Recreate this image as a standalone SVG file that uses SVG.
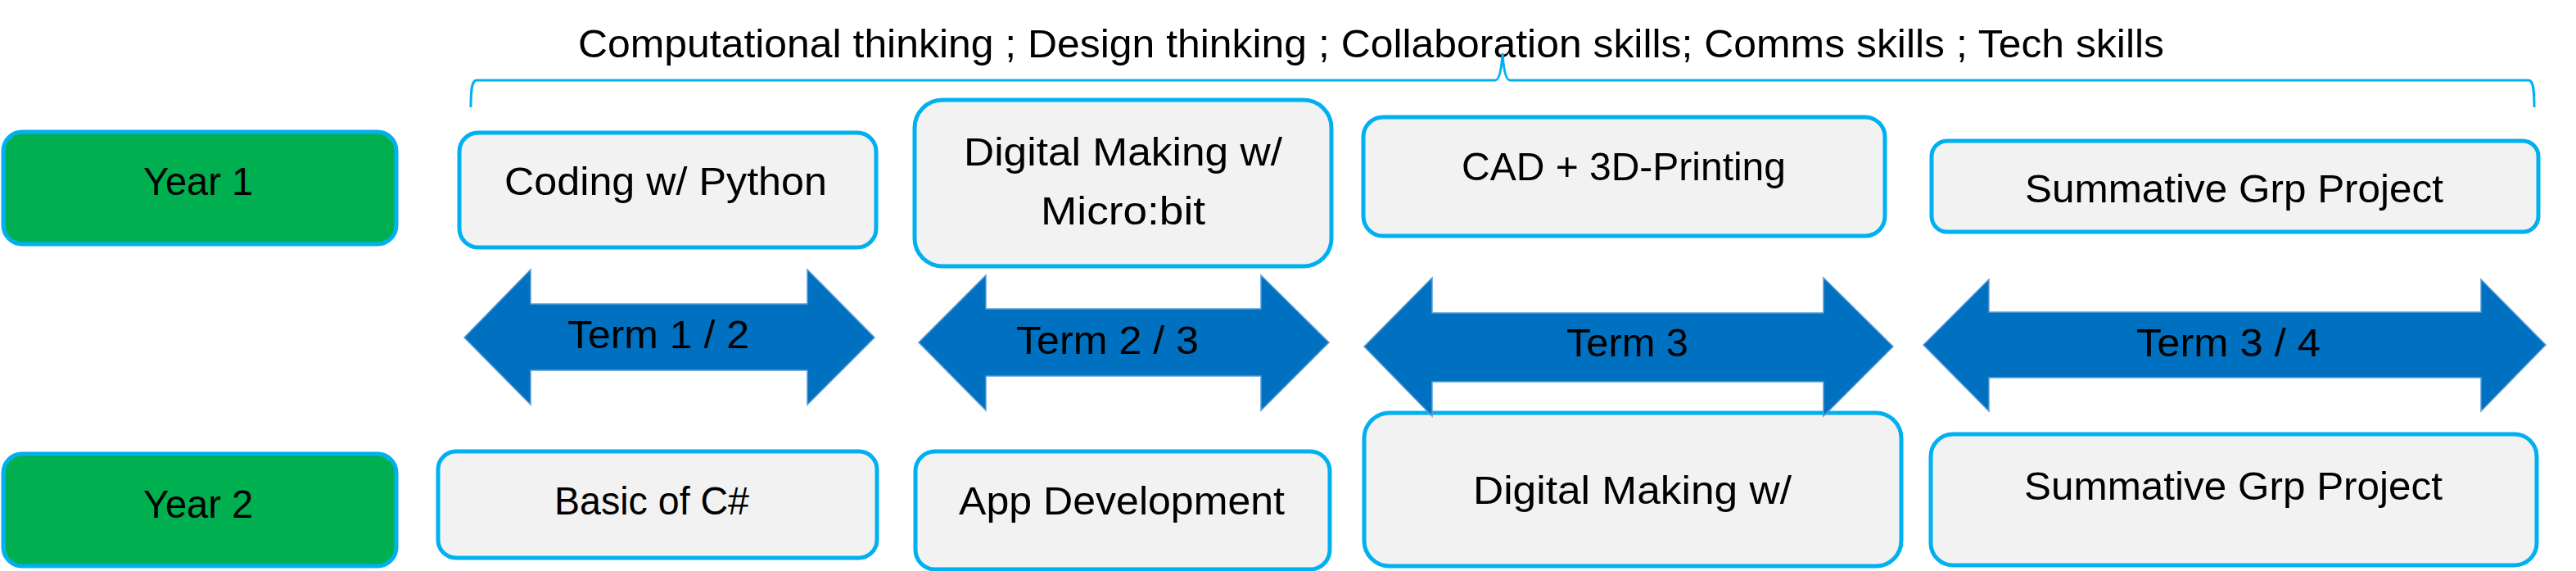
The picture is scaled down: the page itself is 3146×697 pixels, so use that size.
<svg xmlns="http://www.w3.org/2000/svg" width="3146" height="697" viewBox="0 0 3146 697">
<style>
.box{fill:#F2F2F2;stroke:#00B0F0;stroke-width:5}
.year{fill:#00B050;stroke:#00B0F0;stroke-width:5}
.arr{fill:#0070C0;stroke:#5B9BD5;stroke-width:1.5}
.t{font-family:"Liberation Sans",Arial,sans-serif;font-size:49px;fill:#000}
.brace{fill:none;stroke:#00B0F0;stroke-width:3}
</style>
<rect width="3146" height="697" fill="#FFFFFF"/>
<g id="title">
<text class="t" x="706" y="70" textLength="1937" lengthAdjust="spacingAndGlyphs">Computational thinking ; Design thinking ; Collaboration skills; Comms skills ; Tech skills</text>
</g>
<g id="connectors">
<path class="brace" d="M575,131 C575,110 576,98 582,98 L1826,98 C1832,98 1834,80 1835,65 C1836,80 1838,98 1844,98 L3088,98 C3094,98 3095,110 3095,131"/>
</g>
<g id="year1">
<rect class="year" x="4" y="161" width="480" height="137" rx="23"/>
<text class="t" x="175" y="238" textLength="134" lengthAdjust="spacingAndGlyphs">Year 1</text>
</g>
<g id="year2">
<rect class="year" x="4" y="554" width="480" height="137" rx="23"/>
<text class="t" x="175" y="632" textLength="134" lengthAdjust="spacingAndGlyphs">Year 2</text>
</g>
<g id="coding-python">
<rect class="box" x="561" y="162" width="509" height="140" rx="23"/>
<text class="t" x="616" y="238" textLength="394" lengthAdjust="spacingAndGlyphs">Coding w/ Python</text>
</g>
<g id="digital-making-microbit">
<rect class="box" x="1117" y="122" width="509" height="203" rx="34"/>
<text class="t" x="1177" y="202" textLength="389" lengthAdjust="spacingAndGlyphs">Digital Making w/</text>
<text class="t" x="1271" y="274" textLength="201" lengthAdjust="spacingAndGlyphs">Micro:bit</text>
</g>
<g id="cad-3d-printing">
<rect class="box" x="1665" y="143" width="637" height="145" rx="24"/>
<text class="t" x="1785" y="220" textLength="396" lengthAdjust="spacingAndGlyphs">CAD + 3D-Printing</text>
</g>
<g id="summative-y1">
<rect class="box" x="2359" y="172" width="741" height="111" rx="19"/>
<text class="t" x="2473" y="247" textLength="511" lengthAdjust="spacingAndGlyphs">Summative Grp Project</text>
</g>
<g id="basic-csharp">
<rect class="box" x="535" y="551" width="536" height="130" rx="22"/>
<text class="t" x="677" y="628" textLength="238" lengthAdjust="spacingAndGlyphs">Basic of C#</text>
</g>
<g id="app-development">
<rect class="box" x="1118" y="551" width="506" height="144" rx="24"/>
<text class="t" x="1171" y="628" textLength="398" lengthAdjust="spacingAndGlyphs">App Development</text>
</g>
<g id="digital-making-y2">
<rect class="box" x="1666" y="504" width="656" height="187" rx="31"/>
<text class="t" x="1799" y="615" textLength="389" lengthAdjust="spacingAndGlyphs">Digital Making w/</text>
</g>
<g id="summative-y2">
<rect class="box" x="2358" y="530" width="740" height="160" rx="27"/>
<text class="t" x="2472" y="610" textLength="511" lengthAdjust="spacingAndGlyphs">Summative Grp Project</text>
</g>
<g id="term-1-2">
<polygon class="arr" points="567,412 648,329 648,371 986,371 986,329 1068,412 986,494 986,452 648,452 648,494"/>
<text class="t" x="693" y="425" textLength="222" lengthAdjust="spacingAndGlyphs">Term 1 / 2</text>
</g>
<g id="term-2-3">
<polygon class="arr" points="1122,418 1204,336 1204,377 1540,377 1540,336 1623,418 1540,501 1540,459 1204,459 1204,501"/>
<text class="t" x="1241" y="432" textLength="223" lengthAdjust="spacingAndGlyphs">Term 2 / 3</text>
</g>
<g id="term-3">
<polygon class="arr" points="1666,423 1749,339 1749,382 2227,382 2227,339 2312,423 2227,508 2227,466 1749,466 1749,508"/>
<text class="t" x="1913" y="435" textLength="149" lengthAdjust="spacingAndGlyphs">Term 3</text>
</g>
<g id="term-3-4">
<polygon class="arr" points="2349,421 2429,341 2429,381 3030,381 3030,341 3109,421 3030,502 3030,461 2429,461 2429,502"/>
<text class="t" x="2609" y="435" textLength="225" lengthAdjust="spacingAndGlyphs">Term 3 / 4</text>
</g>
</svg>
